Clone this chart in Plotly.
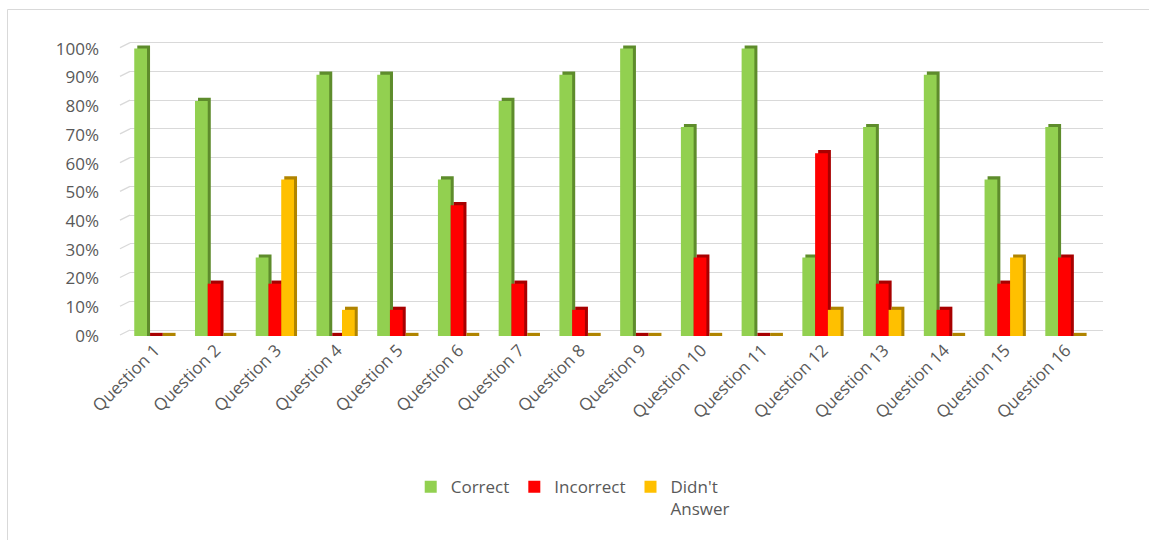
import plotly.graph_objects as go

# Share of respondents per question
questions = [f"Question {i}" for i in range(1, 17)]
correct = [1.00, 0.818, 0.273, 0.909, 0.909, 0.545, 0.818, 0.909,
           1.00, 0.727, 1.00, 0.273, 0.727, 0.909, 0.545, 0.727]
incorrect = [0.0, 0.182, 0.182, 0.0, 0.091, 0.455, 0.182, 0.091,
             0.0, 0.273, 0.0, 0.636, 0.182, 0.091, 0.182, 0.273]
no_answer = [0.0, 0.0, 0.545, 0.091, 0.0, 0.0, 0.0, 0.0,
             0.0, 0.0, 0.0, 0.091, 0.091, 0.0, 0.273, 0.0]

series = [
    ("Correct", correct, "#92D050", "#5E8C2C"),
    ("Incorrect", incorrect, "#FF0000", "#A80000"),
    ("Didn't<br>Answer", no_answer, "#FFC000", "#B08400"),
]

# Layout geometry (pixels)
W, H = 1149, 540
L, R = 130, 46
T, B = 40, 204
plot_w = W - L - R
plot_h = H - T - B
y_top = 1.03                      # value range of the bar axis
wall_shift = 6 / (plot_h / y_top)  # back-wall gridlines sit a little higher

bar_w = 0.21
depth_x = 0.05
depth_y = 0.011
offsets = [-0.34, -0.13, 0.08]

fig = go.Figure()
for (name, vals, face, side), off in zip(series, offsets):
    # darker side/top face, drawn behind the front face
    fig.add_trace(go.Bar(
        x=questions, y=[v + depth_y for v in vals],
        width=bar_w, offset=off + depth_x,
        marker=dict(color=side, line=dict(width=0)),
        showlegend=False, hoverinfo="skip",
    ))
    fig.add_trace(go.Bar(
        x=questions, y=vals, name=name,
        width=bar_w, offset=off,
        marker=dict(color=face, line=dict(width=0)),
        hoverinfo="skip",
    ))

# carrier for the back-wall gridline axis
fig.add_trace(go.Scatter(
    x=[questions[0]], y=[0], yaxis="y2", mode="markers",
    marker=dict(opacity=0), showlegend=False, hoverinfo="skip",
))

grid_vals = [i / 10 for i in range(11)]
shapes = []
for g in grid_vals:
    shapes.append(dict(
        type="line", xref="paper", yref="y2",
        xsizemode="pixel", xanchor=0, x0=-10, x1=0,
        ysizemode="pixel", yanchor=g, y0=-5, y1=0,
        line=dict(color="#D9D9D9", width=1.3), layer="below",
    ))

# chart frame (left and top edges)
def px_to_paper_x(px):
    return (px - L) / plot_w

def px_to_paper_y(py):
    return (H - B - py) / plot_h

shapes.append(dict(type="line", xref="paper", yref="paper",
                   x0=px_to_paper_x(7.5), x1=px_to_paper_x(7.5),
                   y0=px_to_paper_y(9.5), y1=px_to_paper_y(560),
                   line=dict(color="#D9D9D9", width=1)))
shapes.append(dict(type="line", xref="paper", yref="paper",
                   x0=px_to_paper_x(7.5), x1=px_to_paper_x(1200),
                   y0=px_to_paper_y(9.5), y1=px_to_paper_y(9.5),
                   line=dict(color="#D9D9D9", width=1)))

font_family = "Open Sans, Noto Sans, sans-serif"
text_color = "#595959"

fig.update_layout(
    width=W, height=H,
    margin=dict(l=L, r=R, t=T, b=B),
    paper_bgcolor="white", plot_bgcolor="white",
    barmode="overlay",
    font=dict(family=font_family, color=text_color, size=17),
    xaxis=dict(
        range=[-0.41, 15.61], showgrid=False, zeroline=False,
        showline=False, ticks="", tickangle=-45,
        tickfont=dict(size=17, color=text_color),
    ),
    yaxis=dict(
        range=[0, y_top], tickvals=grid_vals, tickformat=".0%",
        showgrid=False, zeroline=False, showline=False,
        ticklabelstandoff=30,
        tickfont=dict(size=17, color=text_color),
    ),
    yaxis2=dict(
        overlaying="y", range=[-wall_shift, y_top - wall_shift],
        tickvals=grid_vals, showticklabels=False, showgrid=True,
        gridcolor="#D9D9D9", gridwidth=1.3, zeroline=False, showline=False,
    ),
    legend=dict(
        orientation="h", x=0.455, xanchor="center", y=-0.45, yanchor="top",
        font=dict(size=17, color=text_color), valign="top",
        itemwidth=30, traceorder="normal",
    ),
    shapes=shapes,
)

fig.write_html("out.html")
